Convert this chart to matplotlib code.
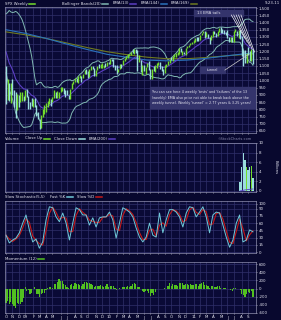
import numpy as np
import pandas as pd
import matplotlib
matplotlib.use("Agg")
import matplotlib.pyplot as plt
from matplotlib.patches import Rectangle
from matplotlib.lines import Line2D

# ---- data (weekly SPX, week ending 2008-10-10 .. 2011-09-23) ----
first_week = "2008-10-10"
# closes of the 19 weeks before the window (needed for BB(20), EMA(13), Momentum(12))
prior_close = [1400, 1361, 1360, 1318, 1278, 1262, 1239, 1261, 1257, 1260,
               1297, 1298, 1292, 1283, 1242, 1252, 1255, 1213, 1099]
close = [899, 940, 876, 968, 930, 873, 800, 896, 876, 879, 887, 872,
         931, 890, 850, 831, 826, 869, 826, 770, 735, 683, 756, 768, 816,
         843, 857, 870, 866, 878, 929, 883, 887, 919,
         940, 947, 921, 918, 896, 879, 941, 979, 987,
         1010, 1005, 1026, 1029, 1016, 1042, 1068, 1044,
         1025, 1071, 1087, 1080, 1036, 1069, 1093, 1091, 1091,
         1106, 1106, 1102, 1127, 1115,
         1145, 1136, 1092, 1074, 1066, 1075, 1109, 1104,
         1139, 1150, 1160, 1167, 1178, 1194, 1192, 1217, 1187,
         1111, 1136, 1087, 1089, 1065, 1092, 1117, 1076,
         1022, 1078, 1065, 1102, 1102, 1122, 1079, 1071, 1065,
         1105, 1110, 1125, 1149, 1146, 1166, 1176, 1183, 1183,
         1225, 1199, 1200, 1190, 1225, 1240, 1244, 1257, 1258,
         1272, 1293, 1284, 1276, 1311, 1329, 1343, 1320,
         1321, 1304, 1279, 1314, 1332, 1329, 1320, 1338, 1364,
         1340, 1338, 1333, 1331, 1300, 1271, 1272, 1268,
         1340, 1344, 1316, 1345, 1292, 1199, 1179, 1124, 1177,
         1174, 1154, 1216, 1136]
high = [1098, 1007, 985, 985, 1007, 934, 917, 905, 897, 918, 919, 891,
        934, 943, 891, 852, 877, 870, 877, 827, 780, 735, 758, 804, 832,
        845, 857, 875, 869, 884, 930, 920, 924, 920,
        951, 956, 946, 934, 931, 896, 943, 979, 996,
        1018, 1013, 1027, 1039, 1028, 1045, 1074, 1080,
        1063, 1075, 1097, 1101, 1085, 1072, 1097, 1113, 1112,
        1120, 1108, 1117, 1128, 1130,
        1145, 1150, 1150, 1104, 1104, 1079, 1112, 1112,
        1139, 1153, 1170, 1181, 1182, 1194, 1214, 1217, 1220,
        1207, 1174, 1141, 1104, 1105, 1093, 1120, 1131,
        1076, 1080, 1100, 1104, 1120, 1129, 1127, 1100, 1076,
        1105, 1112, 1131, 1149, 1158, 1168, 1184, 1190, 1196,
        1227, 1225, 1200, 1199, 1225, 1240, 1247, 1259, 1262,
        1278, 1294, 1297, 1302, 1311, 1330, 1344, 1338,
        1333, 1323, 1298, 1315, 1338, 1339, 1330, 1338, 1364,
        1371, 1354, 1346, 1332, 1346, 1300, 1298, 1298,
        1340, 1356, 1344, 1347, 1346, 1307, 1209, 1208, 1190,
        1230, 1204, 1220, 1220]
low = [839, 866, 859, 845, 899, 819, 741, 798, 815, 851, 857, 857,
       863, 888, 804, 804, 821, 814, 816, 754, 734, 667, 672, 748, 768,
       779, 814, 836, 826, 847, 875, 878, 878, 880,
       919, 927, 903, 888, 896, 869, 872, 940, 972,
       987, 990, 979, 1016, 992, 1017, 1042, 1042,
       1019, 1025, 1072, 1076, 1033, 1029, 1069, 1086, 1084,
       1086, 1086, 1095, 1102, 1115,
       1115, 1131, 1090, 1071, 1044, 1056, 1075, 1086,
       1105, 1136, 1147, 1151, 1165, 1174, 1186, 1180, 1187,
       1066, 1126, 1055, 1040, 1064, 1043, 1089, 1071,
       1011, 1010, 1063, 1056, 1088, 1105, 1075, 1067, 1040,
       1048, 1094, 1107, 1122, 1140, 1131, 1159, 1160, 1172,
       1184, 1194, 1174, 1185, 1173, 1224, 1233, 1242, 1251,
       1257, 1267, 1272, 1275, 1276, 1311, 1324, 1294,
       1303, 1291, 1249, 1282, 1303, 1322, 1303, 1306, 1332,
       1329, 1330, 1318, 1312, 1296, 1268, 1263, 1262,
       1268, 1333, 1307, 1296, 1283, 1168, 1101, 1122, 1121,
       1173, 1137, 1136, 1114]

# long EMAs at a few weeks
ema_weeks = [0, 12, 25, 38, 50, 63, 75, 88, 100, 113, 125, 138, 150, 154]
ema144 = [1350, 1325, 1290, 1250, 1215, 1180, 1160, 1140, 1135, 1140, 1152, 1170, 1185, 1188]
ema169 = [1335, 1315, 1290, 1258, 1228, 1198, 1178, 1160, 1150, 1150, 1158, 1170, 1180, 1182]

# slow stochastic %K, read every ~2 weeks across the window
stoch_k = [35, 19, 25, 29, 40, 60, 77, 46, 21, 27, 8, 21, 67, 94, 92, 73, 63, 81, 60, 25,
           60, 92, 88, 77, 77, 56, 71, 52, 71, 73, 73, 83, 67, 29, 60, 92, 88, 83, 73, 50,
           31, 21, 31, 60, 35, 31, 81, 40, 67, 88, 88, 83, 73, 52, 81, 94, 92, 73, 83, 94,
           73, 40, 77, 83, 81, 56, 31, 10, 25, 60, 77, 21, 25, 46, 42]

# volume (billions), only the last weeks are shown on the chart
vol_first_week = 146
volume = [1.8, 5.0, 8.0, 6.5, 5.0, 4.3, 5.0, 5.2, 2.8]

price_ticks = list(range(650, 1501, 50))
vol_ticks = [0, 2, 4, 6, 8, 10]
stoch_ticks = [0, 15, 30, 45, 60, 75, 90, 100]
mom_ticks = [-600, -400, -200, 0, 200, 400, 600]

note_text = ("You can see here 4 weekly 'tests' and 'failures' of the 13\n"
             "(weekly) EMA also price not able to break back above the\n"
             "weekly tunnel. Weekly 'tunnel' = 2.77 years & 3.25 years!")

# ---- colours ----
BG = "#08082e"
AXBG = "#0a0a36"
GRID = "#30306a"
TEXT = "#e4e4f0"
UP = "#72dc2c"
DOWN = "#9adede"
BB = "#80b8b2"
E13 = "#5b3ec4"
E144 = "#2a72bc"
E169 = "#6e7a20"
K_COL = "#70c8d8"
D_COL = "#c41818"
MOM = "#52c020"
BOX = "#34346c"

W, H = 281, 320
fig = plt.figure(figsize=(W / 100, H / 100), dpi=100, facecolor=BG)


def px_axes(x0, y0, x1, y1):
    ax = fig.add_axes([x0 / W, 1 - y1 / H, (x1 - x0) / W, (y1 - y0) / H])
    ax.set_facecolor(AXBG)
    for s in ax.spines.values():
        s.set_color("#9090b0")
        s.set_linewidth(0.5)
    return ax


s_all = pd.Series(prior_close + close, dtype=float)
n = len(close)
npre = len(prior_close)
weeks = np.arange(n)
c = np.array(close, dtype=float)
prev_c = s_all.shift(1).to_numpy()[npre:]
up = c >= prev_c

mid = s_all.rolling(20).mean()
sd = s_all.rolling(20).std(ddof=0)
bb_up = (mid + 2 * sd).to_numpy()[npre:]
bb_lo = (mid - 2 * sd).to_numpy()[npre:]
ema13 = s_all.ewm(span=13, adjust=False).mean().to_numpy()[npre:]
momentum = s_all.diff(12).to_numpy()[npre:]

dates = pd.date_range(first_week, periods=n, freq="W-FRI")
month_pos, month_lab = [], []
prev = None
for i, d in enumerate(dates):
    if (d.year, d.month) != prev:
        month_pos.append(i)
        month_lab.append(d.strftime("%y") if d.month == 1 else d.strftime("%b")[0])
        prev = (d.year, d.month)

xlim = (-0.62, 155.9)


def style(ax, ticks, labels, ylim):
    ax.set_xlim(*xlim)
    ax.set_ylim(*ylim)
    ax.yaxis.tick_right()
    ax.set_yticks(ticks)
    ax.set_yticklabels(labels)
    ax.set_xticks(month_pos)
    ax.set_xticklabels([])
    ax.tick_params(axis="both", labelsize=2.9, colors=TEXT, length=1, width=0.4, pad=1)
    ax.grid(True, color=GRID, lw=0.5)
    ax.set_axisbelow(True)


# ---- price panel ----
ax_p = px_axes(5, 7, 256, 133)
style(ax_p, price_ticks, [f"{t:,}" for t in price_ticks], (636, 1507))
ax_p.plot(weeks, bb_up, color=BB, lw=0.7)
ax_p.plot(weeks, bb_lo, color=BB, lw=0.7)
ax_p.plot(ema_weeks, ema169, color=E169, lw=0.8)
ax_p.plot(ema_weeks, ema144, color=E144, lw=0.8)
ax_p.plot(weeks, ema13, color=E13, lw=0.8)
ax_p.vlines(weeks, low, high, colors=np.where(up, UP, DOWN), lw=1.0)

# annotations
ax_p.add_patch(Rectangle((117, 1445), 31, 42, color=BOX, zorder=4))
ax_p.text(119, 1466, "13 EMA tails", color=TEXT, fontsize=2.7, va="center", zorder=5)
for x0, x1, y1 in [(140.5, 149, 1290), (142, 150.5, 1262), (143.5, 152, 1238),
                   (145, 153.5, 1215), (146.5, 155, 1195)]:
    ax_p.plot([x0, x1], [1452, y1], color="white", lw=0.45, zorder=5)
ax_p.add_patch(Rectangle((121, 1050), 15.5, 42, color=BOX, zorder=4))
ax_p.text(128.7, 1071, "tunnel", color=TEXT, fontsize=2.5, ha="center", va="center", zorder=5)
ax_p.plot([136.5, 151], [1071, 1178], color="#d0d0d0", lw=0.5, zorder=5)
ax_p.add_patch(Rectangle((89.8, 809), 70, 145, color=BOX, zorder=4))
ax_p.text(91, 881, note_text, color=TEXT, fontsize=2.4, va="center", linespacing=1.55,
          zorder=5)

# ---- volume panel ----
ax_v = px_axes(5, 143, 256, 192)
style(ax_v, vol_ticks, [str(t) for t in vol_ticks], (-0.21, 10))
vol_full = np.zeros(n)
vol_full[vol_first_week:vol_first_week + len(volume)] = volume
vw = weeks[vol_first_week:]
ax_v.bar(vw, vol_full[vol_first_week:], width=0.85,
         color=np.where(up[vol_first_week:], UP, DOWN))
vol_ema = pd.Series(vol_full).ewm(span=200, adjust=False).mean().to_numpy()
ax_v.plot(vw, vol_ema[vol_first_week:], color=E13, lw=0.6)
fig.text(276 / W, 1 - 167 / H, "Billions", rotation=270, color=TEXT, fontsize=2.8,
         ha="center", va="center")
fig.text(252 / W, 1 - 138.5 / H, "\u00a9StockCharts.com", color="#8a8ab0", fontsize=2.5,
         ha="right", va="center")

# ---- stochastic panel ----
ax_s = px_axes(5, 201, 256, 253)
style(ax_s, stoch_ticks, [str(t) for t in stoch_ticks], (-2, 106))
sx = np.linspace(0, n - 1, len(stoch_k))
stoch_d = pd.Series(stoch_k, dtype=float).rolling(2, min_periods=1).mean()
ax_s.plot(sx, stoch_d, color=D_COL, lw=0.8)
ax_s.plot(sx, stoch_k, color=K_COL, lw=0.7)

# ---- momentum panel ----
ax_m = px_axes(5, 262, 256, 313)
style(ax_m, mom_ticks, [str(t) for t in mom_ticks], (-600, 649))
ax_m.bar(weeks, momentum, width=0.75, color=MOM)
ax_m.set_xticklabels(month_lab)
ax_m.tick_params(axis="x", pad=0.8)

# ---- legends / titles ----
renderer = fig.canvas.get_renderer()


def legend_row(y_px, items, size=2.8):
    x_next = 5
    for x_px, label, color in items:
        x = x_next if x_px is None else x_px
        t = fig.text(x / W, 1 - y_px / H, label, color=TEXT, fontsize=size,
                     ha="left", va="center")
        bb = t.get_window_extent(renderer)
        x_end = bb.x1 + 1.5
        if color:
            fig.add_artist(Line2D([x_end / W, (x_end + 6) / W], [1 - y_px / H] * 2,
                                  color=color, lw=1.1, transform=fig.transFigure))
            x_end += 6
        x_next = x_end + 4


legend_row(3.5, [(5, "SPX Weekly", UP), (62, "Bollinger Bands(20)", BB),
                 (None, "EMA(13)", E13), (None, "EMA(144)", E144), (None, "EMA(169)", E169)])
fig.text(280 / W, 1 - 3.5 / H, "9-23-11", color=TEXT, fontsize=2.8, ha="right", va="center")
legend_row(138.5, [(5, "Volume", None), (None, "Close Up", UP), (None, "Close Down", DOWN),
                   (None, "EMA(200)", E13)])
legend_row(197, [(5, "Slow Stochastic(5,5)", None), (None, "Fast %K", K_COL),
                 (None, "Slow %D", D_COL)])
legend_row(258.5, [(5, "Momentum (12)", MOM)])

fig.savefig("out.png", dpi=100, facecolor=BG)
